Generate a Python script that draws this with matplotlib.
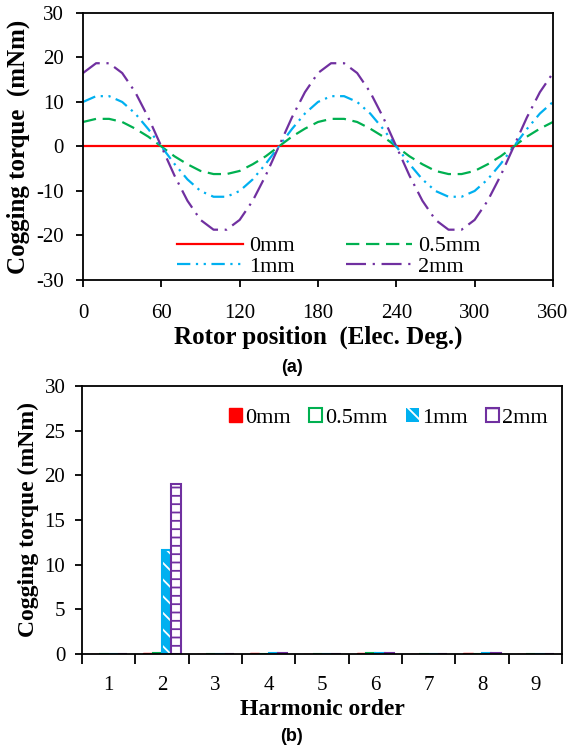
import matplotlib
matplotlib.use("Agg")
import matplotlib.pyplot as plt
from matplotlib.patches import Patch
import numpy as np

# (a) cogging torque waveform, read every 10 electrical degrees
theta = list(range(0, 361, 10))
torque_0mm = [0.0] * 37
torque_05mm = [5.5, 6.2, 6.2, 5.5, 4.0, 2.2, 0.0, -2.2, -4.0, -5.5, -6.2, -6.2, -5.5,
               -4.0, -2.2, 0.0, 2.2, 4.0, 5.5, 6.2, 6.2, 5.5, 4.0, 2.2, 0.0, -2.2,
               -4.0, -5.5, -6.2, -6.2, -5.5, -4.0, -2.2, 0.0, 2.2, 4.0, 5.5]
torque_1mm = [10.0, 11.3, 11.3, 10.0, 7.4, 3.9, 0.0, -3.9, -7.4, -10.0, -11.3, -11.3, -10.0,
              -7.4, -3.9, 0.0, 3.9, 7.4, 10.0, 11.3, 11.3, 10.0, 7.4, 3.9, 0.0, -3.9,
              -7.4, -10.0, -11.3, -11.3, -10.0, -7.4, -3.9, 0.0, 3.9, 7.4, 10.0]
torque_2mm = [16.5, 18.7, 18.7, 16.5, 12.2, 6.5, 0.0, -6.5, -12.2, -16.5, -18.7, -18.7, -16.5,
              -12.2, -6.5, 0.0, 6.5, 12.2, 16.5, 18.7, 18.7, 16.5, 12.2, 6.5, 0.0, -6.5,
              -12.2, -16.5, -18.7, -18.7, -16.5, -12.2, -6.5, 0.0, 6.5, 12.2, 16.5]

# (b) harmonic spectrum
orders = [1, 2, 3, 4, 5, 6, 7, 8, 9]
harm_0mm = [0, 0.12, 0, 0.12, 0, 0.12, 0, 0.12, 0]
harm_05mm = [0, 0.1, 0, 0, 0, 0.12, 0, 0, 0]
harm_1mm = [0, 11.6, 0, 0.12, 0, 0.12, 0, 0.12, 0]
harm_2mm = [0, 19.0, 0, 0.12, 0, 0.12, 0, 0.12, 0]

labels = ['0mm', '0.5mm', '1mm', '2mm']
red, green, blue, purple = '#FF0000', '#00B050', '#00B0F0', '#7030A0'

plt.rcParams['font.family'] = ['Liberation Serif', 'DejaVu Serif']
plt.rcParams['axes.unicode_minus'] = False
plt.rcParams['hatch.linewidth'] = 1.3
arial = ['Liberation Sans', 'DejaVu Sans']

fig = plt.figure(figsize=(5.71, 7.48), dpi=100)

# ---- (a) ----
ax1 = fig.add_axes([0.1454, 0.6257, 0.823, 0.357])
l0, = ax1.plot(theta, torque_0mm, color=red, lw=1.6)
l05, = ax1.plot(theta, torque_05mm, color=green, lw=1.6, dashes=(6, 3))
l1, = ax1.plot(theta, torque_1mm, color=blue, lw=1.6, dashes=(6, 2.5, 1, 2.5, 1, 2.5))
l2, = ax1.plot(theta, torque_2mm, color=purple, lw=1.6, dashes=(9, 3, 1, 3))
ax1.set_xlim(0, 360)
ax1.set_ylim(-30, 30)
ax1.set_xticks(range(0, 361, 60))
ax1.set_yticks(range(-30, 31, 10))
ax1.tick_params(axis='y', direction='out', length=5, width=1.3, labelsize=15, pad=9)
ax1.tick_params(axis='x', direction='out', length=5, width=1.3, labelsize=15, pad=12)
for s in ax1.spines.values():
    s.set_linewidth(1.3)
ax1.set_xlabel('Rotor position  (Elec. Deg.)', fontsize=18, fontweight='bold', labelpad=2)
ax1.set_ylabel('Cogging torque  (mNm)', fontsize=18, fontweight='bold', labelpad=4)
# column-wise fill: row 1 = 0mm, 0.5mm; row 2 = 1mm, 2mm
ax1.legend([l0, l1, l05, l2], [labels[0], labels[2], labels[1], labels[3]],
           ncol=2, loc='lower left', bbox_to_anchor=(0.19, -0.005), frameon=False,
           fontsize=16, handlelength=3.0, handletextpad=0.25, columnspacing=2.3,
           labelspacing=0.0, borderaxespad=0, borderpad=0.2)
fig.text(0.511, 0.509, '(a)', ha='center', va='center', fontsize=13,
         fontweight='bold', family=arial)

# ---- (b) ----
ax2 = fig.add_axes([0.1436, 0.1257, 0.8406, 0.3583])
x = np.array(orders)
w = 0.175
offs = [-1.5 * w, -0.5 * w, 0.5 * w, 1.5 * w]
ax2.bar(x + offs[0], harm_0mm, w, color=red, edgecolor=red, lw=1.0)
ax2.bar(x + offs[1], harm_05mm, w, facecolor='white', edgecolor=green, lw=1.5)
ax2.bar(x + offs[2], harm_1mm, w, facecolor=blue, edgecolor='white', hatch='\\\\', lw=0)
ax2.bar(x + offs[2], harm_1mm, w, fill=False, edgecolor=blue, lw=1.5)
ax2.bar(x + offs[3], harm_2mm, w, facecolor='white', edgecolor=purple, hatch='--', lw=1.5)
ax2.set_xlim(0.5, 9.5)
ax2.set_ylim(0, 30)
ax2.set_yticks(range(0, 31, 5))
ax2.set_xticks(np.arange(0.5, 10, 1))
ax2.set_xticklabels([])
ax2.set_xticks(orders, minor=True)
ax2.set_xticklabels([str(o) for o in orders], minor=True)
ax2.tick_params(axis='x', which='major', direction='out', length=7, width=1.3)
ax2.tick_params(axis='x', which='minor', length=0, labelsize=15, pad=16)
ax2.tick_params(axis='y', direction='out', length=5, width=1.3, labelsize=15, pad=7)
for s in ax2.spines.values():
    s.set_linewidth(1.3)
ax2.set_xlabel('Harmonic order', fontsize=17, fontweight='bold', labelpad=3)
ax2.set_ylabel('Cogging torque (mNm)', fontsize=17, fontweight='bold', labelpad=4)
handles = [Patch(facecolor=red, edgecolor=red),
           Patch(facecolor='white', edgecolor=green, lw=1.5),
           Patch(facecolor=blue, edgecolor='white', hatch='\\', lw=0),
           Patch(facecolor='white', edgecolor=purple, hatch='-', lw=1.5)]
ax2.legend(handles, labels, loc='upper right', ncol=4, frameon=False, fontsize=16,
           handlelength=0.6, handleheight=0.6, handletextpad=0.15, columnspacing=0.8,
           borderaxespad=0, borderpad=0.2, bbox_to_anchor=(0.98, 0.935))
fig.text(0.51, 0.016, '(b)', ha='center', va='center', fontsize=13,
         fontweight='bold', family=arial)

fig.savefig('out.png', dpi=100)
